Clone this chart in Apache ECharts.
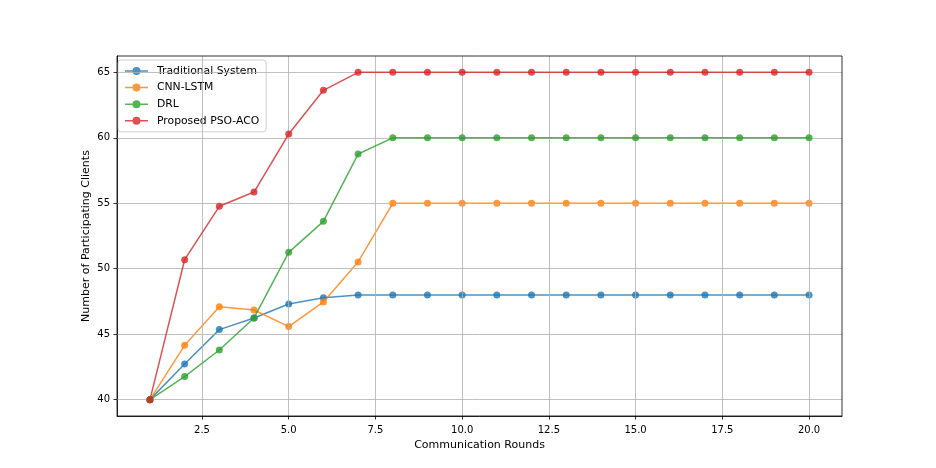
<!DOCTYPE html>
<html><head><meta charset="utf-8">
<script src="https://cdn.jsdelivr.net/npm/echarts@6/dist/echarts.min.js"></script>
<style>html,body{margin:0;padding:0;background:#fff}#c{width:936px;height:468px}</style>
</head><body><div id="c"></div>
<script>
var rounds = [1,2,3,4,5,6,7,8,9,10,11,12,13,14,15,16,17,18,19,20];
var traditional = [40,42.72,45.35,46.24,47.31,47.79,48,48,48,48,48,48,48,48,48,48,48,48,48,48];
var cnnLstm = [40,44.15,47.1,46.85,45.58,47.46,50.52,55,55,55,55,55,55,55,55,55,55,55,55,55];
var drl = [40,41.76,43.79,46.24,51.25,53.62,58.76,60,60,60,60,60,60,60,60,60,60,60,60,60];
var psoAco = [40,50.69,54.77,55.86,60.29,63.63,65,65,65,65,65,65,65,65,65,65,65,65,65,65];
var seriesNames = ['Traditional System','CNN-LSTM','DRL','Proposed PSO-ACO'];
var xTicks = [2.5,5,7.5,10,12.5,15,17.5,20];
var yTicks = [40,45,50,55,60,65];

var colors = ['rgba(31,119,180,0.8)','rgba(255,127,14,0.8)','rgba(44,160,44,0.8)','rgba(214,39,40,0.8)'];
var allData = [traditional, cnnLstm, drl, psoAco];
var font = 'DejaVu Sans';
function mk(i){
  return {
    name: seriesNames[i], type:'line',
    data: rounds.map(function(r,j){return [r, allData[i][j]];}),
    symbol:'circle', symbolSize:7, showSymbol:true,
    lineStyle:{color:colors[i], width:1.5},
    itemStyle:{color:colors[i]},
    emphasis:{disabled:true}, animation:false, z: 3+i
  };
}
var series = [0,1,2,3].map(mk);
series.push({type:'line', data:[], silent:true, markLine:{silent:true, symbol:'none', label:{show:false},
  lineStyle:{color:'#b0b0b0', width:0.8, type:'solid'}, animation:false,
  data: xTicks.map(function(v){return {xAxis:v};})}, z:1});
series.push({type:'line', data:[], silent:true, markLine:{silent:true, symbol:'none', label:{show:false},
  lineStyle:{color:'#b0b0b0', width:0.8, type:'solid'}, animation:false,
  data: yTicks.map(function(v){return {yAxis:v};})}, z:1});

var chart = echarts.init(document.getElementById('c'), null, {renderer:'canvas'});
chart.setOption({
  animation:false,
  backgroundColor:'#fff',
  grid:{left:117, right:94, top:56, bottom:52, containLabel:false, show:false},
  legend:{
    show:true, orient:'vertical', left:118, top:60,
    data: seriesNames,
    itemWidth:23, itemHeight:8, itemGap:4.6,
    backgroundColor:'rgba(255,255,255,0.8)', borderColor:'#d0d0d0', borderWidth:1, borderRadius:3,
    padding:[5,7,5,7],
    textStyle:{fontFamily:font, fontSize:10.8, color:'#000', lineHeight:12, padding:[0,0,0,4]},
    icon:'path://M0,3.25 L8,3.25 L8,4.75 L0,4.75 Z M15,3.25 L23,3.25 L23,4.75 L15,4.75 Z M11.5,0 A4,4 0 1,1 11.5,8 A4,4 0 1,1 11.5,0 Z'
  },
  xAxis:{
    type:'value', min:0.05, max:20.95,
    name:'Communication Rounds', nameLocation:'middle', nameGap:24,
    nameTextStyle:{fontFamily:font, fontSize:11, color:'#000'},
    axisLine:{show:true, onZero:false, lineStyle:{color:'#000', width:0.8}},
    axisTick:{show:true, length:3.5, lineStyle:{color:'#000', width:0.8}, customValues:xTicks},
    axisLabel:{fontFamily:font, fontSize:10, color:'#000', margin:9, customValues:xTicks,
      formatter:function(v){return v.toFixed(1);}},
    splitLine:{show:false}
  },
  yAxis:{
    type:'value', min:38.75, max:66.25,
    name:'Number of Participating Clients', nameLocation:'middle', nameGap:25, nameMoveOverlap:false,
    nameTextStyle:{fontFamily:font, fontSize:11, color:'#000'},
    axisLine:{show:true, onZero:false, lineStyle:{color:'#000', width:0.8}},
    axisTick:{show:true, length:3.5, lineStyle:{color:'#000', width:0.8}, customValues:yTicks},
    axisLabel:{fontFamily:font, fontSize:10, color:'#000', margin:7, customValues:yTicks},
    splitLine:{show:false}
  },
  graphic:[{type:'rect', shape:{x:117, y:56, width:725, height:360}, style:{fill:null, stroke:'#000', lineWidth:0.8}, silent:true, z:100}],
  series: series
});
</script></body></html>
